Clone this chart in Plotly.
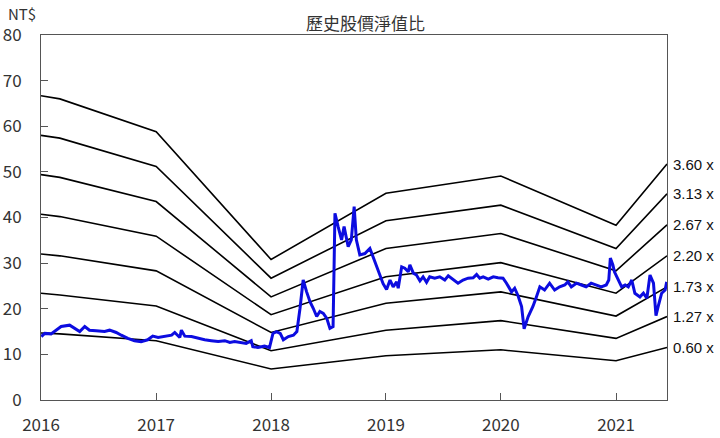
import plotly.graph_objects as go

# price-to-book band nodes
band_dates = ['2016-01-01', '2016-03-01', '2017-01-01', '2018-01-01',
              '2019-01-01', '2020-01-01', '2021-01-01', '2021-06-12']
band_labels = ['3.60 x', '3.13 x', '2.67 x', '2.20 x', '1.73 x', '1.27 x', '0.60 x']
band_360 = [66.7, 66.0, 58.8, 30.8, 45.3, 49.1, 38.3, 51.7]
band_313 = [58.0, 57.4, 51.2, 26.7, 39.3, 42.7, 33.2, 45.2]
band_267 = [49.4, 48.8, 43.5, 22.6, 33.2, 36.5, 28.3, 38.4]
band_220 = [40.7, 40.2, 35.9, 18.7, 27.0, 30.1, 23.4, 31.6]
band_173 = [32.0, 31.6, 28.3, 14.8, 21.2, 23.7, 18.4, 24.8]
band_127 = [23.4, 23.0, 20.6, 10.8, 15.3, 17.4, 13.5, 18.3]
band_060 = [14.7, 14.5, 13.0, 6.8, 9.7, 11.0, 8.6, 11.5]

# share price
price_dates = [
    '2016-01-02', '2016-01-13', '2016-02-02', '2016-03-05', '2016-04-01', '2016-04-17',
    '2016-05-03', '2016-05-19', '2016-06-03', '2016-06-24', '2016-07-21', '2016-08-06',
    '2016-08-27', '2016-09-12', '2016-10-03', '2016-10-24', '2016-11-14', '2016-12-05',
    '2016-12-21', '2017-01-07', '2017-01-29', '2017-02-19', '2017-03-01', '2017-03-17',
    '2017-03-22', '2017-04-02', '2017-04-23', '2017-05-14', '2017-06-04', '2017-06-25',
    '2017-07-17', '2017-08-07', '2017-08-23', '2017-09-07', '2017-09-28', '2017-10-14',
    '2017-10-30', '2017-11-04', '2017-11-20', '2017-12-11', '2017-12-27', '2018-01-07',
    '2018-01-18', '2018-01-30', '2018-02-09', '2018-02-25', '2018-03-13', '2018-03-24',
    '2018-04-03', '2018-04-13', '2018-04-24', '2018-05-05', '2018-05-15', '2018-05-26',
    '2018-06-05', '2018-06-16', '2018-06-27', '2018-07-07', '2018-07-17', '2018-07-23',
    '2018-08-02', '2018-08-13', '2018-08-21', '2018-09-03', '2018-09-13', '2018-09-22',
    '2018-09-29', '2018-10-10', '2018-10-26', '2018-11-11', '2018-11-21', '2018-12-02',
    '2018-12-12', '2018-12-23', '2019-01-03', '2019-01-14', '2019-01-24', '2019-02-04',
    '2019-02-09', '2019-02-20', '2019-03-02', '2019-03-13', '2019-03-18', '2019-03-29',
    '2019-04-08', '2019-04-19', '2019-04-29', '2019-05-10', '2019-05-20', '2019-06-05',
    '2019-06-21', '2019-07-07', '2019-07-18', '2019-08-03', '2019-08-18', '2019-09-03',
    '2019-09-19', '2019-10-05', '2019-10-16', '2019-10-26', '2019-11-06', '2019-11-22',
    '2019-12-08', '2019-12-23', '2020-01-08', '2020-01-19', '2020-02-04', '2020-02-14',
    '2020-02-25', '2020-03-07', '2020-03-15', '2020-03-28', '2020-04-12', '2020-04-23',
    '2020-05-04', '2020-05-19', '2020-06-04', '2020-06-20', '2020-07-06', '2020-07-22',
    '2020-08-01', '2020-08-12', '2020-08-28', '2020-09-13', '2020-09-28', '2020-10-14',
    '2020-10-30', '2020-11-15', '2020-12-01', '2020-12-09', '2020-12-14', '2020-12-22',
    '2020-12-27', '2021-01-08', '2021-01-19', '2021-01-30', '2021-02-09', '2021-02-20',
    '2021-03-02', '2021-03-18', '2021-03-29', '2021-04-09', '2021-04-19', '2021-04-30',
    '2021-05-08', '2021-05-15', '2021-05-26', '2021-06-06', '2021-06-11',
]
price = [
    13.9, 14.6, 14.5, 16.1, 16.4, 15.7,
    15.0, 16.1, 15.3, 15.2, 15.0, 15.3,
    14.8, 14.2, 13.5, 13.0, 12.8, 13.2,
    14.0, 13.7, 14.0, 14.2, 14.8, 13.7,
    15.3, 14.0, 13.9, 13.5, 13.2, 13.0,
    12.8, 13.0, 12.6, 12.8, 12.6, 12.4,
    13.0, 11.7, 11.5, 11.8, 11.5, 14.6,
    15.0, 14.6, 13.2, 13.9, 14.2, 15.0,
    20.1, 26.3, 23.7, 21.5, 20.1, 18.3,
    19.4, 19.0, 17.9, 15.7, 16.1, 40.9,
    38.0, 35.1, 38.0, 33.6, 35.1, 42.4,
    35.1, 31.8, 32.1, 33.2, 31.4, 29.2,
    27.5, 25.5, 24.2, 26.3, 24.8, 25.9,
    24.5, 29.2, 28.9, 28.1, 29.6, 27.8,
    27.4, 26.1, 27.0, 25.8, 27.0, 26.7,
    27.0, 26.3, 27.2, 26.3, 25.6, 26.3,
    26.7, 26.8, 27.5, 26.7, 27.0, 26.5,
    27.0, 26.8, 26.7, 25.6, 23.7, 24.5,
    22.8, 20.5, 15.6, 18.3, 20.5, 22.6,
    24.8, 24.1, 25.6, 24.1, 24.8, 25.2,
    25.9, 24.8, 25.6, 25.2, 24.8, 25.6,
    25.2, 24.8, 25.2, 26.3, 31.1, 29.6,
    28.1, 26.3, 24.8, 25.2, 24.8, 26.3,
    23.4, 22.6, 23.4, 22.3, 27.4, 25.6,
    18.5, 20.5, 23.4, 24.1, 25.9,
]

bands = [band_360, band_313, band_267, band_220, band_173, band_127, band_060]

font = "Noto Sans CJK TC"
fig = go.Figure()

for lbl, vals in zip(band_labels, bands):
    fig.add_trace(go.Scatter(x=band_dates, y=vals, mode='lines', name=lbl,
                             line=dict(color='black', width=1.6)))
    fig.add_annotation(x=band_dates[-1], y=vals[-1], text=lbl, showarrow=False,
                       xanchor='left', yanchor='middle', xshift=4,
                       font=dict(size=15, color='#111', family='Liberation Sans'))

fig.add_trace(go.Scatter(x=price_dates, y=price, mode='lines', name='股價',
                         line=dict(color='#0c0ce0', width=3)))

fig.add_annotation(text='歷史股價淨值比', xref='paper', yref='paper', x=0.519, y=1,
                   yshift=13, showarrow=False, xanchor='center', yanchor='middle',
                   font=dict(size=17, color='#333', family=font))
fig.add_annotation(text='NT$', xref='paper', yref='paper', x=0, y=1, xshift=-35,
                   yshift=22, showarrow=False, xanchor='left', yanchor='middle',
                   font=dict(size=15, color='#333', family=font))

fig.update_layout(
    width=720, height=438,
    margin=dict(l=41, r=53, t=35, b=38, autoexpand=False),
    plot_bgcolor='white', paper_bgcolor='white',
    showlegend=False,
    font=dict(family=font, size=17, color='#333'),
)
fig.update_xaxes(range=['2016-01-01', '2021-06-12'], dtick='M12', tick0='2016-01-01',
                 tickformat='%Y', ticks='inside', ticklen=7, tickcolor='#555',
                 showline=True, linecolor='#555', linewidth=1, mirror=True,
                 showgrid=False, zeroline=False, ticklabelstandoff=10, automargin=False)
fig.update_yaxes(range=[0, 80], dtick=10, ticks='inside', ticklen=7, tickcolor='#555',
                 showline=True, linecolor='#555', linewidth=1, mirror=True,
                 showgrid=False, zeroline=False, ticklabelstandoff=15, automargin=False)

# page body has a default 8px margin; drop it so the figure sits at the corner
fig.write_html("out.html", config={'displayModeBar': False},
               post_script="document.body.style.margin='0';")
